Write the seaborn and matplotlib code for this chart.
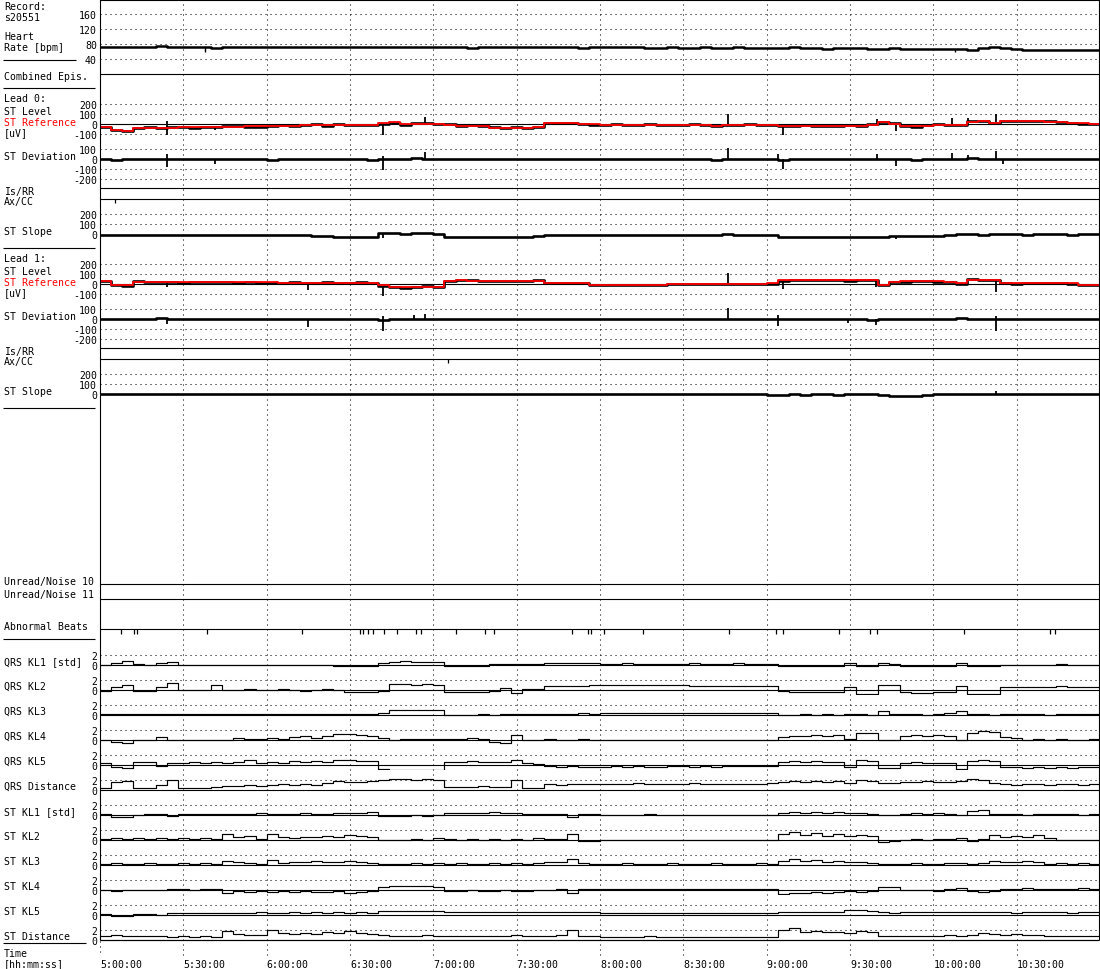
import numpy as np
import pandas as pd
import matplotlib
matplotlib.use("Agg")
import matplotlib.pyplot as plt
import matplotlib.transforms as mtransforms
import seaborn as sns

sns.set_theme(style="white")
plt.rcParams['font.family'] = ['DejaVu Sans Mono', 'DejaVu Sans']
plt.rcParams['lines.scale_dashes'] = False
plt.rcParams['lines.solid_capstyle'] = 'butt'

# ---------------- data ----------------
record_id = "s20551"
bin_minutes = 4  # one value per 4 minutes, starting 5:00:00

time_tick_minutes = [0, 30, 60, 90, 120, 150, 180, 210, 240, 270, 300, 330]
time_tick_labels = ["5:00:00", "5:30:00", "6:00:00", "6:30:00", "7:00:00", "7:30:00",
                    "8:00:00", "8:30:00", "9:00:00", "9:30:00", "10:00:00", "10:30:00"]

heart_rate = [73, 73, 72, 73, 72, 76, 71, 71, 72, 71, 70, 71, 72, 71, 71,
              72, 71, 72, 73, 72, 71, 71, 72, 72, 73, 71, 72, 72, 73, 72,
              72, 71, 71, 70, 71, 71, 72, 71, 72, 71, 71, 72, 71, 70, 71,
              73, 72, 71, 71, 70, 70, 71, 70, 70, 71, 70, 70, 71, 70, 70,
              69, 70, 71, 70, 69, 68, 69, 70, 69, 68, 68, 69, 68, 68, 67,
              67, 67, 66, 64, 70, 71, 70, 66, 65, 64, 64, 65, 64, 64, 65]
hr_spike_minutes = [37.8, 307.8]
hr_spike_tips = [58, 58]

# Lead 0 (uV)
lead0_st_level = [-28, -55, -68, -35, -30, -40, -30, -28, -35, -25, -30, -22, -20, -28, -30,
                  -18, -12, -20, -8, -3, -15, -2, -10, -12, -5, 5, 15, -5, 8, 12,
                  5, -2, -20, -12, -18, -33, -40, -33, -42, -25, 15, 8, 12, 0, -5,
                  -5, -2, -10, -6, -3, -8, -5, -10, -2, -8, -18, -5, -5, -3, -8,
                  -5, -20, -15, -12, -22, -15, -18, -12, -20, 0, 20, 8, -15, -25, -12,
                  -3, -8, -5, 28, 30, 15, 35, 30, 33, 26, 28, 18, 15, 5, 3]
lead0_st_reference = [-33, -60, -73, -40, -38, -37, -35, -33, -32, -30, -28, -27, -25, -23, -22,
                      -20, -18, -17, -12, -8, -7, -7, -7, -7, -7, 10, 18, 0, 0, 0,
                      0, -5, -17, -17, -20, -37, -37, -37, -37, -30, 10, 10, 10, -3, -3,
                      -7, -7, -7, -7, -7, -7, -7, -7, -7, -7, -15, -12, -7, -7, -7,
                      -7, -17, -17, -17, -17, -17, -17, -17, -17, -5, 17, 5, -20, -20, -15,
                      -7, -7, -10, 25, 27, 12, 33, 32, 30, 28, 25, 20, 12, 7, 5]
lead0_st_deviation = [2, -5, 3, 0, -3, 5, 2, -4, 3, -2, 4, 0, -3, 2, 5,
                      -5, 0, 3, -2, 4, -3, 2, -4, 0, -6, 5, -2, 3, 8, 4,
                      0, -3, 2, -4, 3, 0, -2, 4, -3, 5, 3, 0, -2, 3, 0,
                      2, -3, 0, 4, -2, 0, 3, -4, 2, 0, -5, 3, 0, 2, -3,
                      0, -5, -2, 3, -4, 0, 2, -3, -2, 4, 3, -2, 4, -5, 0,
                      3, 5, -2, 6, 3, -2, 4, 2, -3, 5, 0, 3, -2, 4, 0]
lead0_st_slope = [-10, -12, -8, -10, -10, -12, -10, -10, -8, -10, -10, -12, -10, -10, -8,
                  -10, -10, -12, -10, -15, -20, -30, -25, -28, -25, 8, 8, 5, 7, 6,
                  5, -25, -27, -25, -28, -25, -27, -25, -28, -22, -10, -12, -8, -10, -10,
                  -5, -7, -5, -6, -8, -5, -5, -10, -8, -7, -5, -3, -5, -5, -7,
                  -12, -25, -28, -27, -25, -28, -27, -25, -30, -27, -25, -20, -15, -17, -18,
                  -15, -10, -3, -2, -5, -3, -2, -3, -5, -3, -2, -3, -5, -3, -2]
lead0_level_spike_minutes = [24.1, 24.1, 41.4, 101.9, 117.0, 226.1, 245.9, 279.7, 286.6, 306.7, 312.5, 322.6]
lead0_level_spike_tips = [-105, 30, -60, -110, 75, 100, -105, 50, -70, 60, 60, 100]
lead0_dev_spike_minutes = [24.1, 24.1, 41.4, 101.9, 101.9, 117.0, 226.1, 244.0, 245.9, 279.7, 286.6, 306.7, 312.5, 322.6, 325.0]
lead0_dev_spike_tips = [-80, 50, -45, -107, 30, 70, 107, 55, -100, 50, -70, 60, 45, 80, -50]
lead0_slope_spike_minutes = [101.9, 286.6]
lead0_slope_spike_tips = [-40, -45]
lead0_axcc_minutes = [5.4]

# Lead 1 (uV)
lead1_st_level = [28, -5, -15, 26, 25, 22, 18, 14, 18, 20, 22, 18, 15, 16, 14,
                  12, 15, 18, 12, 14, 16, 15, 13, 16, 12, -20, -25, -35, -25, -20,
                  -28, 30, 40, 38, 32, 30, 28, 33, 35, 38, 15, 12, 10, 8, -5,
                  -8, -5, -7, -10, -6, -5, 2, 0, -2, 0, 3, -3, 0, 2, -2,
                  5, 35, 40, 38, 36, 38, 37, 35, 36, 38, -10, 22, 25, 28, 30,
                  25, 25, 5, 48, 42, 38, 8, 5, 7, 10, 6, 8, 5, -5, -8]
lead1_st_reference = [30, -10, -12, 16, 16, 16, 16, 16, 16, 16, 16, 16, 16, 16, 16,
                      16, 15, 15, 15, 14, 14, 14, 14, 13, 13, -13, -30, -30, -30, -30,
                      -30, 35, 37, 35, 30, 28, 27, 30, 33, 35, 13, 13, 13, 13, -7,
                      -7, -7, -7, -7, -7, -7, 0, 0, 0, 0, 0, 0, 0, 0, 0,
                      8, 37, 37, 37, 37, 37, 37, 37, 37, 37, -12, 25, 28, 30, 35,
                      28, 20, 7, 45, 40, 40, 7, 7, 7, 7, 7, 7, 7, -7, -7]
lead1_st_deviation = [3, -4, 2, 5, 4, 6, 2, -2, 3, 5, 2, 0, -3, 4, -2,
                      0, 3, 2, -4, 3, -2, 4, 0, -3, 2, -5, 3, -2, 4, -3,
                      0, 4, 2, -2, 3, 0, 5, -3, 2, 4, 0, -2, 3, -4, 2,
                      0, -3, 2, -2, 3, 0, -2, 4, -3, 2, 0, 3, -2, 0, 4,
                      2, 5, -2, 3, 0, -4, 2, 3, -3, -5, 4, 2, -2, 5, 3,
                      -2, 0, 6, 3, -2, 4, -3, 2, 0, 3, -2, 3, 0, -2, 4]
lead1_st_slope = [0, 2, -3, 1, 0, -2, 2, 0, -1, 3, 0, -2, 1, 0, -3,
                  2, 0, 1, -2, 0, 2, -1, 0, 3, -2, 0, 1, -3, 0, 2,
                  -1, 0, 2, -2, 0, 1, -1, 0, 2, 0, -2, 1, 0, -1, 2,
                  0, -2, 1, 0, -3, 2, 0, -1, 1, 0, 2, -2, 0, 1, -1,
                  -8, -5, -3, -6, -4, -3, -5, -2, -4, -3, -6, -18, -20, -15, -8,
                  -3, -2, 0, 5, 2, 3, 0, 2, -1, 3, 1, 2, 0, 2, 1]
lead1_level_spike_minutes = [24.1, 74.9, 101.9, 226.1, 245.9, 279.4, 322.6]
lead1_level_spike_tips = [-30, -55, -115, 110, -47, -25, -75]
lead1_dev_spike_minutes = [24.1, 74.9, 101.9, 101.9, 113.0, 117.0, 226.1, 244.0, 244.0, 269.3, 279.4, 322.6, 322.6]
lead1_dev_spike_tips = [-50, -77, -117, 33, 40, 47, 110, -70, 40, -43, -57, -117, 33]
lead1_slope_spike_minutes = [286.6, 322.6]
lead1_slope_spike_tips = [-30, 30]
lead1_axcc_minutes = [125.2]

abnormal_beat_minutes = [7.6, 12.2, 13.3, 38.5, 72.7, 93.5, 94.8, 96.5, 98.3, 102.2,
                         106.8, 113.7, 115.5, 128.1, 138.7, 141.7, 169.9, 175.7, 176.8, 181.4,
                         195.4, 226.4, 243.4, 245.7, 265.9, 277.3, 279.6, 311.0, 342.0, 343.7]

# KL traces [std]
qrs_kl1 = [0, 0.3, 0.8, 0.2, 0, 0.3, 0.6, 0, 0, 0, 0, 0, 0, 0, 0,
           0, 0, 0, 0, 0, 0, -0.2, -0.3, -0.2, -0.2, 0.3, 0.6, 0.7, 0.6, 0.5,
           0.6, -0.3, -0.3, -0.2, -0.3, 0.1, 0.2, 0.1, 0.2, 0.1, 0.3, 0.4, 0.3, 0.3, 0.3,
           0.2, 0.2, 0.3, 0.2, 0.2, 0.2, 0.1, 0.2, 0.3, 0.2, 0.2, 0.2, 0.3, 0.2, 0.2,
           0.1, -0.2, -0.3, -0.2, -0.3, -0.2, -0.2, 0.3, -0.2, -0.2, 0.3, 0.2, -0.2, -0.3, -0.2,
           -0.3, -0.2, 0.3, -0.2, -0.3, -0.3, -0.1, 0, 0, 0, 0, 0.1, 0, 0, 0]
qrs_kl2 = [-0.2, 0.6, 1.0, -0.2, -0.2, 0.5, 1.3, -0.1, -0.1, -0.1, 1.0, -0.1, 0, 0.1, -0.1,
           0, 0.1, 0, -0.2, 0, 0.1, -0.1, -0.4, -0.5, -0.4, -0.3, 1.1, 1.2, 1.0, 1.1,
           1.0, -0.4, -0.4, -0.4, -0.5, -0.3, 0.3, -0.6, 0.1, 0.1, 0.7, 0.7, 0.8, 0.8, 0.9,
           1.0, 1.0, 1.0, 1.0, 1.0, 1.0, 1.0, 1.0, 0.8, 0.8, 0.8, 0.8, 0.8, 0.8, 0.8,
           0.8, -0.2, -0.4, -0.5, -0.4, -0.5, -0.4, 0.6, -0.9, -0.9, 1.0, 1.0, -0.5, -0.6, -0.6,
           -0.5, -0.4, 0.8, -0.8, -0.9, -0.8, 0.6, 0.6, 0.6, 0.6, 0.6, 0.7, 0.6, 0.6, 0.6]
qrs_kl3 = [0.1, 0.2, 0.1, 0.1, 0.1, 0.2, 0.1, 0.1, 0.1, 0.1, 0.2, 0.1, 0.1, 0.1, 0.1,
           0.1, 0.1, 0.2, 0.1, 0.1, 0.2, 0.1, 0.1, 0.1, 0.1, 0.3, 1.0, 1.0, 0.9, 1.0,
           0.9, 0, 0, 0, 0.1, 0, 0.1, 0.1, 0.2, 0.1, 0.1, 0.2, 0.1, 0.3, 0.2,
           0.3, 0.3, 0.4, 0.4, 0.3, 0.3, 0.4, 0.4, 0.4, 0.4, 0.3, 0.4, 0.4, 0.4, 0.3,
           0.3, 0, 0, 0.1, 0, 0.1, 0, 0.2, 0.1, 0, 0.8, 0.2, 0.1, 0.1, 0,
           0.1, 0.3, 0.8, 0.1, 0.1, 0, 0.1, 0.1, 0.1, 0.1, 0, 0.1, 0.1, 0.1, 0.1]
qrs_kl4 = [0, -0.5, -0.6, -0.1, 0, 0.6, 0, 0, 0, 0, 0, 0, 0.3, 0.2, 0.1,
           0.3, 0.2, 0.5, 0.7, 0.4, 0.8, 1.2, 1.1, 0.9, 0.7, 0.3, 0, 0.1, 0.1, 0.2,
           0.1, 0.1, 0.2, 0.3, 0.2, -0.5, -0.6, 1.0, 0, 0, 0.1, 0, 0, 0.1, 0,
           0, 0, 0, 0, 0, 0, 0, 0, 0, 0, 0, 0, 0, 0, 0,
           0, 0.6, 0.8, 0.7, 0.9, 0.8, 0.9, 0.1, 1.3, 1.4, 0, 0, 0.8, 0.9, 0.7,
           1.0, 0.8, 0, 1.4, 1.8, 1.5, 0.5, 0.3, 0, 0.1, 0, 0.1, 0, 0, 0.1]
qrs_kl5 = [0.4, -0.5, -0.6, 0.6, 0.6, -0.3, 0.4, 0.3, 0.5, 0.4, 0.5, 0.3, 0.6, 0.9, 0.4,
           0.6, 0.4, 0.7, 0.5, 0.8, 0.6, 1.0, 0.9, 0.8, 0.7, -0.8, -1.0, -1.0, -1.1, -1.0,
           -1.0, 0.5, 0.6, 0.7, 0.5, 0.6, 0.5, 1.0, 0.3, 0.2, -0.3, -0.4, -0.3, -0.5, -0.4,
           -0.4, -0.3, -0.4, -0.3, -0.4, -0.4, -0.3, -0.3, -0.4, -0.3, -0.4, -0.3, -0.2, -0.3, -0.2,
           -0.3, 0.6, 0.7, 0.6, 0.7, 0.5, 0.6, -0.5, 0.9, 0.8, -0.6, -0.6, 0.4, 0.5, 0.4,
           0.4, 0.4, -0.9, 0.8, 0.9, 0.7, -0.5, -0.5, -0.6, -0.5, -0.6, -0.5, -0.6, -0.5, -0.5]
qrs_distance = [0.4, 1.5, 1.8, 0.4, 0.4, 1.0, 2.0, 0.3, 0.3, 0.3, 0.5, 0.8, 0.7, 1.0, 0.8,
                1.0, 1.2, 0.9, 1.2, 1.0, 1.3, 1.8, 1.6, 1.5, 1.7, 2.0, 2.2, 2.1, 2.0, 2.1,
                1.9, 0.6, 0.6, 0.5, 0.7, 0.6, 0.6, 2.0, 0.3, 0.3, 1.1, 1.0, 1.2, 1.1, 1.1,
                1.2, 1.1, 1.2, 1.3, 1.2, 1.1, 1.2, 1.2, 1.3, 1.2, 1.1, 1.2, 1.2, 1.1, 1.2,
                1.3, 1.5, 1.7, 1.6, 1.8, 1.5, 1.7, 1.4, 2.0, 1.8, 1.4, 1.3, 1.6, 1.5, 1.7,
                1.6, 1.5, 1.7, 2.1, 2.0, 1.4, 1.1, 1.0, 1.1, 1.1, 1.0, 1.1, 1.1, 1.0, 1.1]
st_kl1 = [0.2, -0.4, -0.5, 0, 0.1, 0.1, -0.2, 0.1, 0.1, 0.1, 0.2, 0.1, 0.2, 0.1, 0.3,
          0.2, 0.1, 0.2, 0.3, 0.1, 0.2, 0.4, 0.3, 0.4, 0.5, -0.2, -0.3, -0.2, -0.1, -0.2,
          -0.1, 0.4, 0.4, 0.3, 0.4, 0.5, 0.4, 0.3, 0.1, 0.1, 0.2, 0.1, -0.4, 0.1, 0.1,
          0, 0, 0, 0, 0.1, 0, 0, 0, 0, 0, 0, 0, 0, 0, 0,
          0, 0.4, 0.5, 0.4, 0.5, 0.4, 0.5, 0.4, 0.3, 0.2, 0, 0, 0.2, 0.3, 0.2,
          0.3, 0.2, 0, 0.8, 0.9, 0.2, 0.1, 0.1, 0, 0.1, 0.1, 0.1, 0.1, 0, 0.1]
st_kl2 = [0.2, 0.3, 0.2, 0.3, 0.1, 0.3, 0.2, 0.3, 0.2, 0.4, 0.2, 1.2, 0.6, 0.7, 0.2,
          1.1, 0.5, 0.3, 0.6, 0.5, 0.8, 0.6, 1.0, 0.7, 0.5, 0, -0.1, 0, 0.2, 0,
          0.3, 0.1, 0, 0.2, 0, 0.1, 0, 0.2, 0, 0.3, 0.1, 0.2, 1.1, -0.2, -0.2,
          -0.1, -0.1, -0.1, 0, -0.1, -0.1, -0.1, -0.1, 0, -0.1, -0.1, -0.1, -0.1, -0.1, -0.1,
          0, 1.2, 1.5, 0.9, 1.3, 0.8, 1.1, 0.7, 1.0, 0.8, -0.4, -0.3, 0, 0.1, 0,
          0.2, 0.1, 0.3, -0.2, 0.2, 1.0, 0.5, 0.7, 0.6, 0.9, 0.3, -0.1, 0, -0.1, -0.1]
st_kl3 = [0.2, 0.3, 0.2, 0.2, 0.3, 0.2, 0.2, 0.3, 0.2, 0.3, 0.2, 0.8, 0.5, 0.3, 0.2,
          0.9, 0.4, 0.6, 0.5, 0.7, 0.6, 0.5, 0.8, 0.6, 0.4, 0.1, 0.2, 0.1, 0.3, 0.2,
          0.3, 0.2, 0.3, 0.2, 0.2, 0.3, 0.2, 0.3, 0.2, 0.3, 0.6, 0.5, 1.1, 0.3, 0.2,
          0.2, 0.2, 0.3, 0.2, 0.2, 0.2, 0.3, 0.2, 0.2, 0.2, 0.3, 0.2, 0.2, 0.2, 0.3,
          0.2, 0.8, 1.1, 0.7, 0.9, 0.6, 0.8, 0.6, 0.5, 0.4, 0.1, 0.2, 0.2, 0.3, 0.2,
          0.2, 0.3, 0.3, 0.2, 0.4, 0.8, 0.5, 0.6, 0.7, 0.6, 0.2, 0.3, 0.2, 0.3, 0.2]
st_kl4 = [-0.1, -0.2, -0.1, 0, -0.1, 0, 0.1, 0.1, 0, 0.1, 0.1, -0.6, -0.3, -0.4, -0.3,
          -0.5, -0.3, -0.4, -0.3, -0.5, -0.4, -0.3, -0.7, -0.5, -0.3, 0.6, 0.8, 0.7, 0.8, 0.7,
          0.6, -0.2, -0.2, -0.1, -0.2, -0.2, -0.1, -0.2, -0.2, -0.1, 0, 0.1, -0.6, 0.2, 0.2,
          0.2, 0.2, 0.2, 0.2, 0.2, 0.2, 0.1, 0.1, 0.2, 0.1, 0.2, 0.1, 0.2, 0.2, 0.1,
          0.2, -0.8, -0.6, -0.7, -0.5, -0.6, -0.4, -0.2, -0.5, -0.3, 0.6, 0.6, -0.1, 0, -0.1,
          -0.2, 0.1, 0.4, -0.3, -0.5, -0.2, 0.2, 0.2, 0.3, 0.2, 0.2, 0.2, 0.2, 0.3, 0.2]
st_kl5 = [0.2, -0.2, -0.2, 0.2, 0.2, 0, 0.3, 0.3, 0.4, 0.3, 0.4, 0.4, 0.3, 0.4, 0.5,
          0.4, 0.4, 0.5, 0.4, 0.5, 0.4, 0.5, 0.4, 0.5, 0.4, 0.8, 0.8, 0.7, 0.8, 0.8,
          0.7, 0.5, 0.5, 0.6, 0.5, 0.5, 0.6, 0.5, 0.5, 0.6, 0.5, 0.6, 0.5, 0.5, 0.5,
          0.3, 0.3, 0.3, 0.3, 0.3, 0.3, 0.3, 0.4, 0.3, 0.3, 0.3, 0.4, 0.4, 0.3, 0.3,
          0.3, 0.5, 0.5, 0.6, 0.5, 0.5, 0.6, 0.9, 0.9, 0.8, 0.5, 0.4, 0.5, 0.5, 0.6,
          0.5, 0.5, 0.6, 0.5, 0.6, 0.5, 0.5, 0.4, 0.5, 0.5, 0.5, 0.5, 0.4, 0.5, 0.5]
st_distance = [0.7, 0.9, 0.7, 0.8, 0.7, 0.8, 0.6, 0.7, 0.6, 0.7, 0.6, 1.8, 1.2, 1.0, 0.9,
               1.9, 1.3, 1.1, 1.4, 1.2, 1.6, 1.4, 1.7, 1.3, 1.2, 0.9, 0.7, 0.8, 0.7, 0.9,
               0.8, 0.8, 0.7, 0.8, 0.7, 0.8, 0.7, 0.9, 0.7, 0.8, 0.8, 0.9, 2.0, 0.8, 0.8,
               0.6, 0.6, 0.6, 0.6, 0.7, 0.6, 0.6, 0.6, 0.6, 0.6, 0.6, 0.6, 0.6, 0.6, 0.6,
               0.6, 2.0, 2.3, 1.6, 1.8, 1.5, 1.6, 1.4, 1.7, 1.5, 0.8, 0.7, 0.8, 0.8, 0.7,
               0.8, 0.9, 0.8, 1.0, 1.3, 1.1, 1.0, 1.1, 1.0, 0.9, 0.8, 0.8, 0.7, 0.8, 0.8]

kl_labels = ["QRS KL1 [std]", "QRS KL2", "QRS KL3", "QRS KL4", "QRS KL5", "QRS Distance",
             "ST KL1 [std]", "ST KL2", "ST KL3", "ST KL4", "ST KL5", "ST Distance"]

# ---------------- figure / layout ----------------
W, H = 1100, 970
PX0, PX1 = 100.0, 1098.5
T_END = (PX1 - PX0) * 0.36  # minutes shown across the plot
FS = 7.1
K = "black"
RED = "#ff0000"
DOT = (0, (0.75, 2.85))
LW_FRAME = 0.8

fig = plt.figure(figsize=(W / 100, H / 100), dpi=100)
fig.patch.set_facecolor("white")

bin_t = np.arange(len(heart_rate)) * bin_minutes


def band(y_top, y_bot, zero_y, ppu):
    """Axes over a pixel band; value v sits at pixel zero_y - v*ppu."""
    ax = fig.add_axes([PX0 / W, 1 - y_bot / H, (PX1 - PX0) / W, (y_bot - y_top) / H])
    ax.set_xlim(0, T_END)
    ax.set_ylim((zero_y - y_bot) / ppu, (zero_y - y_top) / ppu)
    ax.axis("off")
    return ax


def steps(ax, vals, color=K, lw=1.0, z=3):
    df = pd.DataFrame({"minute": np.append(bin_t, T_END),
                       "value": np.append(np.asarray(vals, float), vals[-1])})
    sns.lineplot(data=df, x="minute", y="value", ax=ax, color=color, linewidth=lw,
                 drawstyle="steps-post", estimator=None, zorder=z, legend=False)
    ax.axis("off")


def spikes(ax, t, tips, base_vals=None, lw=1.3):
    t = np.asarray(t, float)
    if base_vals is None:
        base = np.zeros_like(t)
    else:
        base = np.asarray(base_vals, float)[(t // bin_minutes).astype(int)]
    ax.vlines(t, base, tips, colors=K, lw=lw, zorder=4)


def hgrid(ax, vals):
    for v in vals:
        ax.axhline(v, color=K, lw=0.75, ls=DOT, zorder=1)


def ticklabels(ax, vals, labels, dy=3.8):
    tr = mtransforms.blended_transform_factory(fig.transFigure, ax.transData)
    tr = mtransforms.offset_copy(tr, fig=fig, x=0, y=-dy, units="dots")
    for v, s in zip(vals, labels):
        ax.text(97 / W, v, s, transform=tr, ha="right", va="baseline", fontsize=FS,
                clip_on=False, color=K)


# vertical time grid + time labels
gax = fig.add_axes([PX0 / W, 0, (PX1 - PX0) / W, 1])
gax.set_xlim(0, T_END)
gax.set_ylim(H, 0)
gax.axis("off")
gax.vlines(time_tick_minutes[1:], 0, 957, colors=K, lw=0.75, linestyles=[DOT])
gax.vlines([time_tick_minutes[0]], 942, 957, colors=K, lw=0.75, linestyles=[DOT])
for t, lab in zip(time_tick_minutes, time_tick_labels):
    gax.text(t, 968, lab, ha="left", va="baseline", fontsize=FS, clip_on=False, color=K)

# heart rate
ax = band(0, 75, 75, 0.375)
hgrid(ax, [40, 80, 120, 160])
steps(ax, heart_rate, lw=1.8)
spikes(ax, hr_spike_minutes, hr_spike_tips, heart_rate, lw=1.0)
ticklabels(ax, [160, 120, 80, 40], ["160", "120", "80", "40"])
ax.set_xlim(0, T_END); ax.set_ylim(0, 200)

# leads
leads = [
    dict(off=0, level=lead0_st_level, ref=lead0_st_reference, dev=lead0_st_deviation,
         slope=lead0_st_slope, ls_t=lead0_level_spike_minutes, ls_v=lead0_level_spike_tips,
         ds_t=lead0_dev_spike_minutes, ds_v=lead0_dev_spike_tips,
         ss_t=lead0_slope_spike_minutes, ss_v=lead0_slope_spike_tips, ax_t=lead0_axcc_minutes),
    dict(off=160, level=lead1_st_level, ref=lead1_st_reference, dev=lead1_st_deviation,
         slope=lead1_st_slope, ls_t=lead1_level_spike_minutes, ls_v=lead1_level_spike_tips,
         ds_t=lead1_dev_spike_minutes, ds_v=lead1_dev_spike_tips,
         ss_t=lead1_slope_spike_minutes, ss_v=lead1_slope_spike_tips, ax_t=lead1_axcc_minutes),
]
for L in leads:
    o = L["off"]
    # ST level + reference
    a1 = band(75 + o if o == 0 else 248.5, 142.5 + o, 125 + o, 0.1)
    hgrid(a1, [200, 100, -100])
    a1.axhline(0, color=K, lw=LW_FRAME, zorder=2)
    steps(a1, L["level"], lw=1.9)
    spikes(a1, L["ls_t"], L["ls_v"], L["level"])
    steps(a1, L["ref"], color=RED, lw=1.3, z=5)
    ticklabels(a1, [200, 100, 0, -100], ["200", "100", "0", "-100"])
    a1.set_xlim(0, T_END); a1.set_ylim((125 - 142.5) / 0.1, (125 - (75 if o == 0 else 88.5)) / 0.1)
    # ST deviation
    a2 = band(142.5 + o, 189.3 + o, 160 + o, 0.1)
    hgrid(a2, [100, -100, -200])
    steps(a2, L["dev"], lw=1.9)
    spikes(a2, L["ds_t"], L["ds_v"])
    ticklabels(a2, [100, 0, -100, -200], ["100", "0", "-100", "-200"])
    a2.set_xlim(0, T_END); a2.set_ylim((160 - 189.3) / 0.1, (160 - 142.5) / 0.1)
    # Ax/CC marks
    a3 = band(200.3 + o, 212 + o, 0, -1)
    a3.vlines(L["ax_t"], 200.3 + o, 204.3 + o, colors=K, lw=0.9)
    # ST slope
    a4 = band(200.3 + o, 248.5 + o, 235 + o, 0.1)
    hgrid(a4, [200, 100])
    steps(a4, L["slope"], lw=1.9)
    spikes(a4, L["ss_t"], L["ss_v"], L["slope"])
    ticklabels(a4, [200, 100, 0], ["200", "100", "0"])
    a4.set_xlim(0, T_END); a4.set_ylim((235 - 248.5) / 0.1, (235 - 200.3) / 0.1)

# abnormal beats
ab = band(630.3, 640, 0, -1)
ab.vlines(abnormal_beat_minutes, 630.3, 634.8, colors=K, lw=0.9)

# KL traces
kl_series = [qrs_kl1, qrs_kl2, qrs_kl3, qrs_kl4, qrs_kl5, qrs_distance,
             st_kl1, st_kl2, st_kl3, st_kl4, st_kl5, st_distance]
kl_zero = [665.5 + 25 * i for i in range(len(kl_series))]
for z, vals in zip(kl_zero, kl_series):
    a = band(z - 20, z + 5, z, 5)
    hgrid(a, [2])
    a.axhline(0, color=K, lw=LW_FRAME, zorder=2)
    steps(a, vals, lw=0.85)
    ticklabels(a, [2, 0], ["2", "0"], dy=4.3)
    a.set_xlim(0, T_END); a.set_ylim(-1, 4)

# ---------------- overlay: frame, separators, labels ----------------
ov = fig.add_axes([0, 0, 1, 1])
ov.set_xlim(0, W)
ov.set_ylim(H, 0)
ov.axis("off")
ov.hlines([0.5, 75, 189.3, 200.3, 349.3, 360.3, 585, 600, 630.3, 940.5], PX0, PX1, colors=K, lw=LW_FRAME)
ov.vlines([PX0, PX1], 0, 940.5, colors=K, lw=LW_FRAME)
for y, x1 in [(60.5, 76), (88.5, 95), (248.5, 95), (408.5, 95), (640.3, 95), (944.3, 86)]:
    ov.hlines(y, 3, x1, colors=K, lw=LW_FRAME)

left_labels = [
    ("Record:", 10, K), (record_id, 21, K), ("Heart", 39.5, K), ("Rate [bpm]", 51, K),
    ("Combined Epis.", 80, K),
    ("Lead 0:", 102, K), ("ST Level", 115, K), ("ST Reference", 126, RED), ("[uV]", 136, K),
    ("ST Deviation", 160, K), ("Is/RR", 195, K), ("Ax/CC", 205, K), ("ST Slope", 235, K),
    ("Lead 1:", 262, K), ("ST Level", 275, K), ("ST Reference", 286, RED), ("[uV]", 296, K),
    ("ST Deviation", 320, K), ("Is/RR", 355, K), ("Ax/CC", 365, K), ("ST Slope", 395, K),
    ("Unread/Noise 10", 585, K), ("Unread/Noise 11", 598, K), ("Abnormal Beats", 630, K),
    ("Time", 957.5, K), ("[hh:mm:ss]", 967.5, K),
]
for s, yb, c in left_labels:
    ov.text(4, yb, s, ha="left", va="baseline", fontsize=FS, color=c)
for z, s in zip(kl_zero, kl_labels):
    ov.text(4, z - 0.5, s, ha="left", va="baseline", fontsize=FS, color=K)

fig.savefig("out.png", dpi=100, facecolor="white")
